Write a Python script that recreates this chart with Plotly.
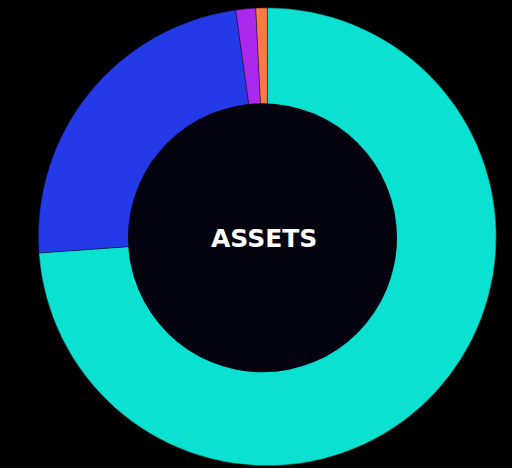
import plotly.graph_objects as go

labels = ["Teal asset", "Blue asset", "Purple asset", "Orange asset"]
values = [73.8, 23.9, 1.4, 0.8]
colors = ["#0ae1d0", "#2439e8", "#ab29ec", "#ff7846"]
center_label = "ASSETS"

W, H = 512, 468
cx, cy, R = 267.3, 236.8, 229.0
icx, icy, IR = 262.5, 237.8, 134.5

fig = go.Figure()
fig.add_trace(go.Pie(
    labels=labels,
    values=values,
    sort=False,
    direction="clockwise",
    rotation=0,
    hole=0.5,
    textinfo="none",
    hoverinfo="label+percent",
    marker=dict(colors=colors, line=dict(color="#05050f", width=0.4)),
    showlegend=False,
    domain=dict(x=[(cx - R) / W, (cx + R) / W],
                y=[(H - cy - R) / H, (H - cy + R) / H]),
))

fig.add_shape(type="circle", xref="paper", yref="paper",
              x0=(icx - IR) / W, x1=(icx + IR) / W,
              y0=(H - icy - IR) / H, y1=(H - icy + IR) / H,
              fillcolor="#03030f", line=dict(width=0), layer="above")

fig.add_annotation(text="<b>" + center_label + "</b>", xref="paper", yref="paper",
                   x=(icx + 1) / W, y=(H - icy - 1) / H, showarrow=False,
                   xanchor="center", yanchor="middle",
                   font=dict(family="DejaVu Sans", size=25, color="#ffffff"))

fig.update_layout(
    width=W, height=H,
    margin=dict(l=0, r=0, t=0, b=0),
    paper_bgcolor="#000000",
    plot_bgcolor="#000000",
)

fig.write_html(
    "out.html",
    config={"displayModeBar": False},
    post_script="document.body.style.margin='0';document.body.style.background='#000';"
                "document.body.style.overflow='hidden';",
)
